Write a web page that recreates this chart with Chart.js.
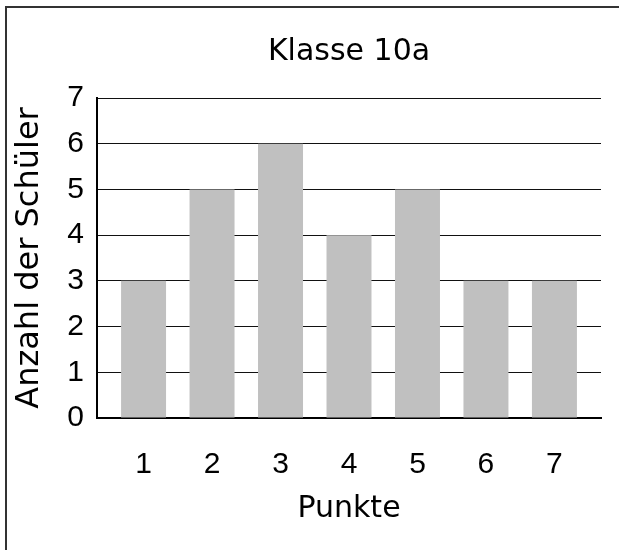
<!DOCTYPE html>
<html>
<head>
<meta charset="utf-8">
<script src="https://cdn.jsdelivr.net/npm/chart.js@4/dist/chart.umd.min.js"></script>
<style>
  html, body { margin: 0; padding: 0; background: #fff; overflow: hidden; }
  canvas { display: block; }
</style>
</head>
<body>
<canvas id="c" width="619" height="550"></canvas>
<script>
const chartTitle = "Klasse 10a";
const categories = [1, 2, 3, 4, 5, 6, 7];
const counts = [3, 5, 6, 4, 5, 3, 3];
const xTitle = "Punkte";
const yTitle = "Anzahl der Schüler";
const yTicks = [0, 1, 2, 3, 4, 5, 6, 7];

const points = categories.map((c, i) => ({ x: c, y: counts[i] }));

const framePlugin = {
  id: 'frame',
  beforeDraw(chart) {
    const ctx = chart.ctx;
    ctx.save();
    ctx.fillStyle = '#333';
    ctx.fillRect(5, 6, chart.width - 5, 2);
    ctx.fillRect(5, 6, 2, chart.height - 6);
    ctx.restore();
  }
};

new Chart(document.getElementById('c'), {
  type: 'bar',
  data: {
    datasets: [{
      data: points,
      backgroundColor: '#c0c0c0',
      borderWidth: 0,
      categoryPercentage: 1,
      barPercentage: 0.657
    }]
  },
  plugins: [framePlugin],
  options: {
    responsive: false,
    animation: false,
    devicePixelRatio: 1,
    layout: { padding: { left: 0, right: 18, top: 0, bottom: 23 } },
    plugins: {
      legend: { display: false },
      tooltip: { enabled: false },
      title: {
        display: true,
        fullSize: false,
        text: chartTitle,
        color: '#000',
        font: { family: 'DejaVu Sans', size: 30, weight: 'normal' },
        padding: { top: 34, bottom: 28 }
      }
    },
    scales: {
      x: {
        type: 'linear',
        offset: false,
        min: 0.32,
        max: 7.68,
        z: 1,
        afterFit: (s) => { s.height = 550 - 23 - 418; },
        ticks: {
          stepSize: 1,
          includeBounds: false,
          color: '#000',
          padding: 29,
          font: { family: 'Liberation Sans', size: 30 },
          callback: (v) => categories.includes(v) ? String(v) : ''
        },
        grid: { display: false, drawTicks: false, offset: false },
        border: { display: true, color: '#000', width: 2 },
        title: {
          display: true,
          text: xTitle,
          color: '#000',
          font: { family: 'DejaVu Sans', size: 30 },
          padding: { top: 0, bottom: 0 }
        }
      },
      y: {
        min: yTicks[0],
        max: yTicks[yTicks.length - 1],
        afterFit: (s) => { s.width = 97; },
        afterBuildTicks: (s) => { s.ticks = yTicks.map(v => ({ value: v })); },
        ticks: {
          stepSize: 1,
          color: '#000',
          padding: 13,
          font: { family: 'Liberation Sans', size: 30 }
        },
        grid: { color: '#111', lineWidth: 1, drawTicks: false },
        border: { display: true, color: '#000', width: 2 },
        title: {
          display: true,
          text: yTitle,
          color: '#000',
          font: { family: 'DejaVu Sans', size: 32 },
          padding: { top: 10, bottom: 0 }
        }
      }
    }
  }
});
</script>
</body>
</html>
